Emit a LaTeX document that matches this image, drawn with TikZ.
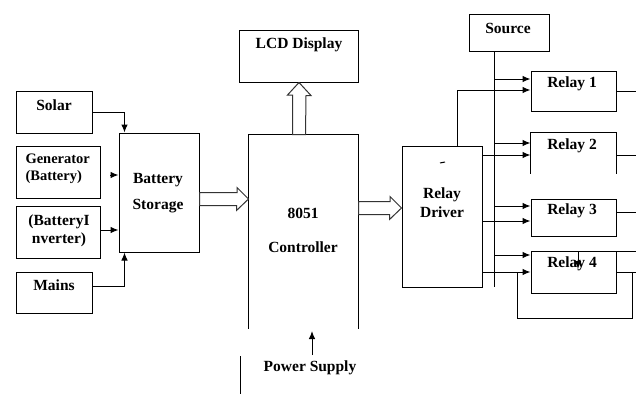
\documentclass[tikz,border=0pt]{standalone}
\usepackage{fontspec}
\setmainfont{Liberation Serif}
\usetikzlibrary{arrows.meta,calc}
\begin{document}
\begin{tikzpicture}[x=1pt,y=-1pt, line width=1pt,
  box/.style={draw, rectangle, inner sep=0pt},
  openbox/.style={rectangle, inner sep=0pt},
  txt/.style={font=\fontsize{15.5}{17}\selectfont\bfseries, inner sep=0pt, align=center},
  arr/.style={-{Latex[length=8pt,width=6.5pt]}},
  hollow/.style={draw=black!80, fill=white, line width=1pt, line join=miter}]
\useasboundingbox (0,0) rectangle (636,394);

% boxes
\node[box, minimum width=76pt, minimum height=42pt] (solar) at (54,112) {};
\node[box, minimum width=84pt, minimum height=52pt] (gen) at (58,172) {};
\node[box, minimum width=84pt, minimum height=52pt] (inv) at (58,232) {};
\node[box, minimum width=76pt, minimum height=41pt] (mains) at (54,292.5) {};
\node[box, minimum width=80pt, minimum height=119pt] (bs) at (159,192.5) {};
\node[openbox, minimum width=109pt, minimum height=193pt] (ctrl) at (303.5,231.5) {};
\draw (ctrl.south west) -- (ctrl.north west) -- (ctrl.north east) -- (ctrl.south east);
\node[box, minimum width=119pt, minimum height=52pt] (lcd) at (298.5,56) {};
\node[box, minimum width=80pt, minimum height=37pt] (src) at (509,32.5) {};
\node[box, minimum width=80pt, minimum height=141pt] (drv) at (442,216.5) {};
\node[box, minimum width=85pt, minimum height=40pt] (r1) at (573.5,91) {};
\node[openbox, minimum width=85pt, minimum height=40pt] (r2) at (573.5,153) {};
\draw (r2.south west) -- (r2.north west) -- (r2.north east) -- (r2.south east);
\node[box, minimum width=85pt, minimum height=37pt] (r3) at (573.5,217.5) {};
\node[box, minimum width=85pt, minimum height=42pt] (r4) at (573.5,272) {};

% texts
\node[txt] (solar-t) at (54,105) {Solar};
\node[txt, font=\fontsize{14.5}{17}\selectfont\bfseries, align=left, anchor=west] (gen-t) at (25,168.5) {Generator\\(Battery)};
\node[txt, font=\fontsize{15.5}{18}\selectfont\bfseries] (inv-t) at (59,231) {(BatteryI\\nverter)};
\node[txt] (mains-t) at (54,285) {Mains};
\node[txt, font=\fontsize{15.5}{26}\selectfont\bfseries] (bs-t) at (158,193) {Battery\\Storage};
\node[txt, font=\fontsize{15.5}{34}\selectfont\bfseries] (ctrl-t) at (303,230) {8051\\Controller};
\node[txt] (lcd-t) at (299,45) {LCD Display};
\node[txt] (src-t) at (508,28) {Source};
\node[txt, font=\fontsize{15.5}{19}\selectfont\bfseries] (drv-t) at (442,202.5) {Relay\\Driver};
\node[txt] (r1-t) at (572,84) {Relay 1};
\node[txt] (r2-t) at (572,146) {Relay 2};
\node[txt] (r3-t) at (572,211) {Relay 3};
\node[txt] (r4-t) at (572,264) {Relay 4};
\node[txt] (ps-t) at (310,368) {Power Supply};
\draw[line width=1pt] (440,163) -- (445,162);

% inputs to battery storage
\draw[arr] (solar.east) -| ($(bs.north west)+(6,0)$);
\coordinate (genin) at (110,175);
\draw[arr] (genin) -- (bs.west |- genin);
\draw[arr] (inv.east |- 0,230) -- (bs.west |- 0,230);
\draw[arr] (mains.east |- 0,286) -| ($(bs.south west)+(6,0)$);

% hollow arrows
\draw[hollow] (bs.east |- 0,192.5) -- (237,192.5) -- ++(0,-5) -- (ctrl.west |- 0,199) -- ++(-12,11.5) -- ++(0,-5) -- (bs.east |- 0,205.5) -- cycle;
\draw[hollow] (ctrl.east |- 0,201.5) -- (390,201.5) -- ++(0,-5) -- (drv.west |- 0,208) -- ++(-12,11.5) -- ++(0,-5) -- (ctrl.east |- 0,214.5) -- cycle;
\draw[hollow] (ctrl.north -| 292.5,0) -- (292.5,95) -- ++(-5,0) -- (lcd.south -| 299,0) -- ++(12,13) -- ++(-5,0) -- (ctrl.north -| 305.5,0) -- cycle;

% source line and arrows
\coordinate (sb) at (494,287);
\draw (src.south -| sb) -- (sb);
\draw[arr] (sb |- 0,79) -- (r1.west |- 0,79);
\draw[arr] (sb |- 0,143) -- (r2.west |- 0,143);
\draw[arr] (sb |- 0,206) -- (r3.west |- 0,206);
\draw[arr] (sb |- 0,255) -- (r4.west |- 0,255);

% driver outputs
\draw[arr] (drv.north -| 457,0) |- (r1.west |- 0,90);
\draw[arr] (drv.east |- 0,155) -- (r2.west |- 0,155);
\draw[arr] (drv.east |- 0,221) -- (r3.west |- 0,221);
\draw[arr] (drv.east |- 0,272) -- (r4.west |- 0,272);

% relay outputs
\coordinate (edge) at (636,0);
\draw (r1.east) -- (edge |- r1.east);
\draw (r2.east |- 0,155) -- (edge |- 0,155);
\draw (r3.east |- 0,212) -- (edge |- 0,212);
\draw (r4.east |- 0,272) -- (edge |- 0,272);
\draw (632,272) -- (632,318) -- (517,318) -- (517,272);
\coordinate (fb) at (578,269);
\draw[arr] (edge |- 0,251) -| (fb);

% power supply
\coordinate (psa) at (312,355);
\draw[arr] (psa) -- (312,331);
\coordinate (pl) at (240,356);
\draw (pl) -- (240,394);
\end{tikzpicture}
\end{document}
